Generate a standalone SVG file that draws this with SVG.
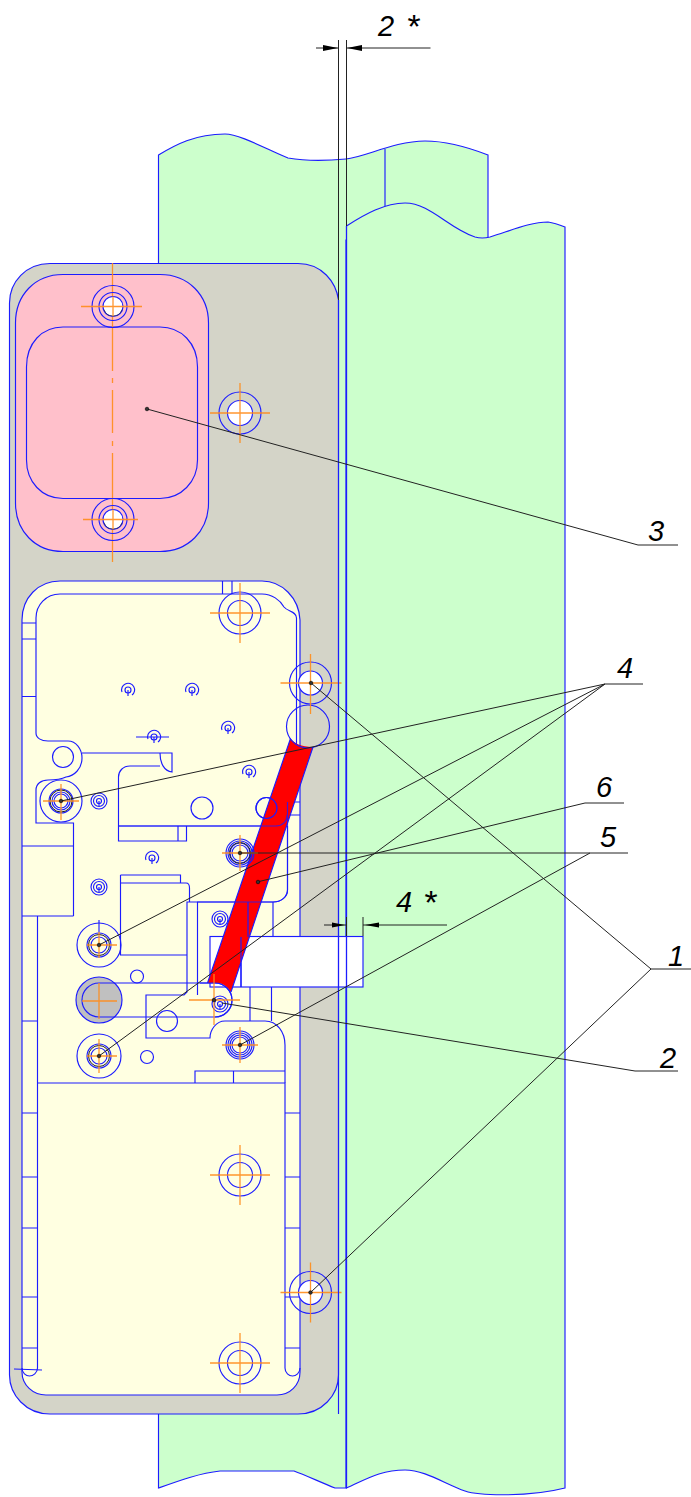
<svg xmlns="http://www.w3.org/2000/svg" width="691" height="1497" viewBox="0 0 691 1497">
<style>
.b{fill:none;stroke:#1c1cff;stroke-width:1.15}
.f{stroke:#1c1cff;stroke-width:1.15}
.o{fill:none;stroke:#ff8c1a;stroke-width:1.3;opacity:.9}
.k{fill:none;stroke:#222;stroke-width:1}
.a{fill:#000;stroke:none}
.t{font-family:"Liberation Sans",Arial,sans-serif;font-style:italic;font-size:29px;fill:#000}
.s{font-size:34px}
.w{fill:#fff}
</style>
<defs>
<g id="sp" class="b"><circle r="3"/><path d="M0 0V6"/><path d="M-6 2A6.500 6.500 0 1 1 4 5"/></g>
<g id="rg" class="b"><circle r="8"/><circle r="5.500"/><circle r="2.500"/><path d="M0 0V5"/></g>
<g id="scr" class="b"><circle r="14"/><circle r="12"/><circle r="10"/><circle r="8"/></g>
<g id="dot"><circle r="1.800" fill="#333" stroke="#000" stroke-width=".6"/></g>
</defs>
<rect width="691" height="1497" fill="#fff"/>
<g id="wall-left">
<path class="f" fill="#ccffcc" d="M158.500 155C175 145 195 134 225 134C240 134 268 150 288 158C305 161 325 161 346 159C365 157 395 141 425 141C445 141 470 148 488 155V240H346V1488H335C320 1482 305 1475 294 1471H220C200 1473 178 1481 158.500 1488Z"/>
<path class="b" d="M385 149V207"/>
</g>
<g id="wall-right">
<path class="f" fill="#ccffcc" d="M346.500 226C365 214 385 203 405 203C430 203 448 228 475 237C482 239 486 238 490 237C510 231 530 222 548 222C555 223 560 225 565 227V1488C530 1497 480 1496 465 1491C445 1484 425 1470 405 1470C380 1470 365 1480 346.500 1488Z"/>
</g>
<g id="plate">
<path class="f" fill="#d4d4c8" d="M50 263.500H298C322 263.500 336 282 338.500 300V1375C338.500 1395 322 1414 298 1414H50C26 1414 9.500 1395 9.500 1375V303C9.500 282 26 263.500 50 263.500Z"/>
</g>
<g id="connector-plate">
<path class="f" fill="#ffc0cb" d="M15.500 323C15.500 295 35 274.500 63 274.500H160C188 274.500 208.500 295 208.500 323V503C208.500 531 188 551.500 160 551.500H63C35 551.500 15.500 531 15.500 503Z"/>
<path class="b" d="M26.500 367C26.500 343 42 327 63 327H160C181 327 197.500 343 197.500 367V460C197.500 482 181 498.500 160 498.500H63C42 498.500 26.500 482 26.500 460Z"/>
<path class="o" d="M112.500 263V371M112.500 378V383M112.500 390V433M112.500 441V446M112.500 453V562"/>
<g transform="translate(113 306.500)"><circle class="b" r="21"/><circle class="b" r="14"/><circle class="f w" r="10"/><path class="k" d="M-9 3A9.500 9.500 0 0 0 9 3" opacity=".6"/><path class="o" d="M-32 0H29M0 -10V10"/></g>
<g transform="translate(113 519.500)"><circle class="b" r="21"/><circle class="b" r="14"/><circle class="f w" r="10"/><path class="k" d="M-9 3A9.500 9.500 0 0 0 9 3" opacity=".6"/><path class="o" d="M-30 0H25M0 -10V10"/></g>
</g>
<g id="hole-c" transform="translate(240 413)"><circle class="b" r="21"/><circle class="f w" r="12.500"/><path class="o" d="M-30 0H30M0 -30V30"/></g>
<g id="cover">
<path class="f" fill="#ffffe1" d="M22 620C22 598 38 581 60 581H262C282 581 299 598 300 620V1372C300 1385 290 1395 277 1395H46C33 1395 22 1385 22 1372Z"/>
<path class="b" d="M36 733V618C36 605 46 594 60 594H262C272 594 280 600 284 607C288 612 296 611 296.500 618V790L288 798C287 799 287 800 287 802V815C287 822 282 826 276 826H118.500V841H186.500V826M178 826V841M118.500 826V777C118.500 771 123 766 130 766H160M36 733C36 738 41 741 48 741H68C76 741 82 749 82 758C82 769 74 776 66 777C60 780 54 780 48 780C41 780 36 784 36 790V823H73.500V916M22 846H73.500M22 916H73.500M37.500 916V1368C37.500 1373 33 1376 29.500 1376C26 1376 22 1373 22 1368M82 753H172V772C164 771 160 763 160 753"/>
<path class="b" d="M22 623H36M22 639H36M22 696.500H36M222.500 581V594M232 581V594M287 802H300M287 815H300"/>
<path class="b" d="M37.500 1021H22M37.500 1113H22M37.500 1177H22M37.500 1228H22M37.500 1297H22M37.500 1348H22M285 1113H300M285 1177H300M285 1228H300M285 1297H300M285 1348H300M37.500 1083H285V1368C285 1373 289 1376 292.500 1376C296 1376 300 1373 300 1368"/>
<path class="b" d="M14 1369L42 1370"/>
<path class="b" d="M287.500 826V890C287.500 897 281 902 273 902H187V992L184 995H146V1038H210C210 1030 216 1021 225 1021H265C277 1021 285 1032 285 1045V1083M197.500 902V995M120.500 875V955H187M120.500 875H180.500V883M120.500 883H186C188 883 189.500 885 189.500 888V902M248 902V937M273 902V937M250 987V1021M271.500 987V1021M195 1083V1071H233.500V1083M233.500 1071H285"/>
<circle class="b" cx="63" cy="757" r="10.500"/>
<circle class="b" cx="202" cy="808" r="11"/>
<circle class="b" cx="266.500" cy="808" r="10.500"/>
<circle class="b" cx="137" cy="976.500" r="6.500"/>
<circle class="b" cx="167" cy="1021" r="10.500"/>
<circle class="b" cx="147" cy="1057" r="6.500"/>
<path class="b" d="M136 737H169"/>
<use href="#sp" x="128" y="690"/>
<use href="#sp" x="192" y="690"/>
<use href="#sp" x="228" y="728"/>
<use href="#sp" x="154" y="737"/>
<use href="#sp" x="249" y="772"/>
<use href="#sp" x="152" y="858"/>
<use href="#rg" x="99" y="801"/>
<use href="#rg" x="99" y="887"/>
<use href="#rg" x="220" y="919"/>
<use href="#rg" x="220" y="1004"/>
</g>
<g id="hole-d" transform="translate(240 613)"><circle class="b" r="21"/><circle class="b" r="12.500"/><path class="o" d="M-30 0H30M0 -30V30"/></g>
<g id="hole-k" transform="translate(240 1175)"><circle class="b" r="21"/><circle class="b" r="12.500"/><path class="o" d="M-30 0H30M0 -30V30"/></g>
<g id="hole-l" transform="translate(240 1363)"><circle class="b" r="21"/><circle class="b" r="12.500"/><path class="o" d="M-30 0H30M0 -30V30"/></g>
<g id="window">
<rect class="f w" x="210" y="936.500" width="153" height="50.500"/>
<path class="b" d="M241 936.500V987M338.500 936.500V987M346.500 936.500V987"/>
</g>
<g id="pin">
<circle class="f" fill="#c0c0c0" cx="99" cy="1000" r="23"/>
<path class="b" d="M99 983H215A17 17 0 0 1 215 1017H99A17 17 0 0 1 99 983Z"/>
<path class="o" d="M82 1001H117M99 983V1019"/>
</g>
<g id="strut">
<path fill="#ff0000" d="M290.500 738.500C294 743 301 747 313 747L231 992C227 986 222 983 217 983H207.500Z"/>
<path class="b" d="M248 902V937M241 937V987M200 983H215A17 17 0 0 1 232 1000C232 1009 225 1017 215 1017M207.500 983L290.500 738.500M231 992L313 747"/>
<path class="b" d="M287.500 802V890C287.500 897 281 902 273 902H197M118.500 826H276C282 826 287 822 287 815" opacity=".8"/>
<circle class="b" cx="266.500" cy="808" r="10.500"/>
<circle class="b" cx="308" cy="726.500" r="21.500"/>
</g>
<g id="hole-e" transform="translate(310.500 683)"><circle class="b" r="21"/><circle class="f w" r="12"/><path class="o" d="M-30 0H31M0 -29V31"/></g>
<g id="hole-m" transform="translate(310.500 1292.500)"><circle class="b" r="21"/><circle class="f w" r="12"/><path class="o" d="M-30 0H31M0 -30V30"/></g>
<g id="hole-f" transform="translate(61 801)"><circle class="b" r="21"/><circle class="b" r="12"/><circle class="k" r="11"/><circle class="b" r="9"/><circle class="b" r="7"/><path class="o" d="M-18 0H18M0 -17V19"/></g>
<g id="hole-g" transform="translate(240 853)"><use href="#scr"/><circle class="k" r="10.500"/><path class="o" d="M-18 0H18M0 -18V18"/></g>
<g id="hole-h" transform="translate(99 945)"><circle class="b" r="22"/><circle class="b" r="12"/><circle class="k" r="10.500"/><circle class="b" r="8"/><path class="o" d="M-12 0H18M0 -13V13"/><path class="b" d="M0 -25V-13"/></g>
<g id="hole-i" transform="translate(99 1056)"><circle class="b" r="22"/><circle class="b" r="12"/><circle class="k" r="10.500"/><circle class="b" r="8"/><path class="o" d="M-12 0H18M0 -17V17"/></g>
<g id="hole-j" transform="translate(240 1045)"><use href="#scr"/><path class="o" d="M-18 0H18M0 -18V18"/></g>
<g id="cross-2"><path class="o" d="M189 1000H240M214 974V1025"/></g>
<g id="edges">
<path class="k" d="M338.500 40V300M346.500 40V226"/>
<path class="b" d="M338.500 300V1414M346.500 226V1488"/>
<path class="k" d="M316 48H338M346.500 48H430.500M346.500 917V936M363 917V936M324 925H346.500M363 925H447"/>
<path class="a" d="M338 48L323 45V51ZM347 48L362 45V51ZM345 925L332 922.500V927.500ZM365 925L379 922.500V927.500Z"/>
</g>
<g id="connectors">
<path class="k" d="M311 683L651 969M310.500 1292.500L651 969M651 969H691"/>
<path class="k" d="M222 1003L635 1071H678"/>
<path class="k" d="M147 409L638 545H678"/>
<path class="k" d="M643 684H605L61 801M605 684L99 945M605 684L99 1056"/>
<path class="k" d="M240 1045L590 853M240 853H628"/>
<path class="k" d="M257 882L585 803H624"/>
<use href="#dot" x="311" y="683"/><use href="#dot" x="310.500" y="1292.500"/><use href="#dot" x="214" y="1000"/><use href="#dot" x="147" y="409"/><use href="#dot" x="61" y="801"/><use href="#dot" x="99" y="945"/><use href="#dot" x="99" y="1056"/><use href="#dot" x="240" y="853"/><use href="#dot" x="240" y="1045"/><use href="#dot" x="258" y="882"/>
</g>
<g id="labels">
<text class="t" x="378" y="36">2 <tspan class="s" x="406" y="38">*</tspan></text>
<text class="t" x="396" y="912">4 <tspan class="s" x="423" y="914">*</tspan></text>
<text class="t" x="617" y="678">4</text>
<text class="t" x="596" y="797">6</text>
<text class="t" x="600" y="847">5</text>
<text class="t" x="668" y="966">1</text>
<text class="t" x="660" y="1068">2</text>
<text class="t" x="648" y="541">3</text>
</g>
</svg>
